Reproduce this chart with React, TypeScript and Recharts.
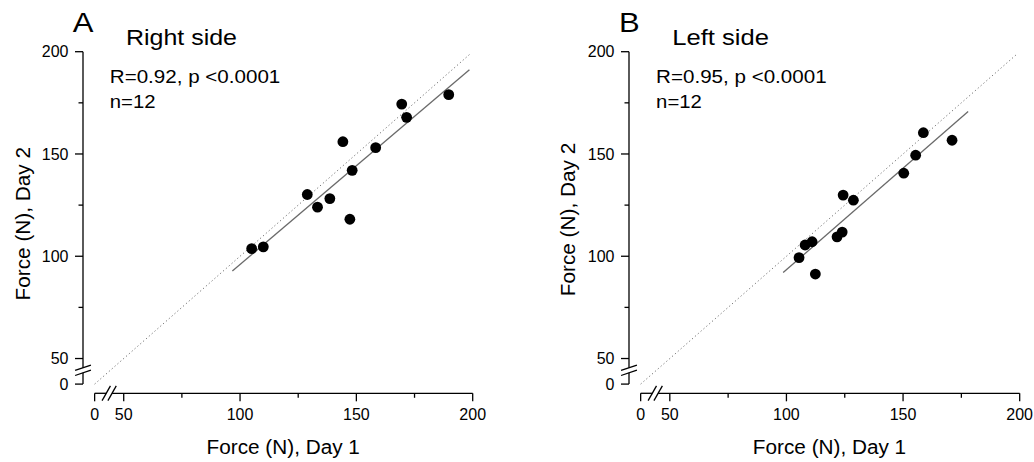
import React from 'react';
import { ScatterChart, Scatter, XAxis, YAxis, ReferenceLine } from 'recharts';

// ---- data ----
const rightDay1 = [105.0, 110.0, 128.9, 133.3, 138.6, 147.2, 144.2, 148.2, 158.3, 169.5, 171.6, 189.7];
const rightDay2 = [103.7, 104.6, 130.2, 124.0, 128.2, 118.1, 156.0, 142.0, 153.1, 174.4, 167.9, 179.0];
const leftDay1 = [105.4, 108.0, 111.0, 112.4, 121.7, 123.9, 124.3, 128.7, 150.3, 155.4, 158.7, 171.0];
const leftDay2 = [99.3, 105.5, 107.1, 91.3, 109.5, 111.8, 129.9, 127.4, 140.6, 149.4, 160.4, 156.7];

// regression line end points (Day 1, Day 2)
const rightFitX = [96.7, 198.6];
const rightFitY = [92.8, 191.2];
const leftFitX = [98.6, 177.9];
const leftFitY = [92.0, 170.8];

// identity line (from the broken-axis "0" to ~200)
const identityEnds = [37.5, 199];

// axis ticks: 37.5 is where the broken axis shows "0"
const tickValues = [37.5, 50, 75, 100, 125, 150, 175, 200];
const tickLabels = ['0', '50', '', '100', '', '150', '', '200'];

const xDomain = [32.5, 200];
const yDomain = [33, 200];
// axis break positions (where the two slashes cross each axis)
const xBreak = [42.5, 45.0];
const yBreak = [43.0, 45.5];

const FONT = '"Liberation Sans", Arial, Helvetica, sans-serif';
const AX = '#000';
const AXW = 1.3;

const YTick = (props: any) => {
  const { x, y, payload } = props;
  const i = tickValues.indexOf(payload.value);
  const label = i >= 0 ? tickLabels[i] : '';
  const len = label ? 8 : 4.5;
  return (
    <g>
      <line x1={x - len} x2={x} y1={y} y2={y} stroke={AX} strokeWidth={AXW} />
      {label ? (
        <text x={x - 14.5} y={y} dy={5.7} textAnchor="end" fontSize={16} fontFamily={FONT} fill="#000">
          {label}
        </text>
      ) : null}
    </g>
  );
};

const XTick = (props: any) => {
  const { x, y, payload } = props;
  const i = tickValues.indexOf(payload.value);
  const label = i >= 0 ? tickLabels[i] : '';
  const len = label ? 8 : 4.5;
  return (
    <g>
      <line x1={x} x2={x} y1={y} y2={y + len} stroke={AX} strokeWidth={AXW} />
      {label ? (
        <text x={x} y={y + 26.9} textAnchor="middle" fontSize={16} fontFamily={FONT} fill="#000">
          {label}
        </text>
      ) : null}
    </g>
  );
};

const Dot = (props: any) => {
  const { cx, cy } = props;
  if (cx == null || cy == null) return null;
  return <circle cx={cx} cy={cy} r={5.4} fill="#000" />;
};

type PanelProps = {
  left: number;
  width: number;
  marginRight: number;
  day1: number[];
  day2: number[];
  fitX: number[];
  fitY: number[];
};

const Panel = ({ left, width, marginRight, day1, day2, fitX, fitY }: PanelProps) => {
  const data = day1.map((x, i) => ({ x, y: day2[i] }));
  const xa = xDomain[0];
  const ya = yDomain[0];
  // slash half extents in data units
  const ySlashDx = 3.4;
  const ySlashDy = 1.3;
  const xSlashDx = 1.8;
  const xSlashDy = 3.6;
  return (
    <div style={{ position: 'absolute', left, top: 0, width, height: 462 }}>
      <ScatterChart width={width} height={462} margin={{ top: 51.7, right: marginRight, bottom: 38.7, left: 0 }}>
        <XAxis
          type="number"
          dataKey="x"
          domain={xDomain}
          ticks={tickValues}
          interval={0}
          height={30}
          tickSize={0}
          tickMargin={0}
          axisLine={false}
          tickLine={false}
          tick={(p: any) => <XTick {...p} />}
        />
        <YAxis
          type="number"
          dataKey="y"
          domain={yDomain}
          ticks={tickValues}
          interval={0}
          width={83}
          tickSize={0}
          tickMargin={0}
          axisLine={false}
          tickLine={false}
          tick={(p: any) => <YTick {...p} />}
        />
        {/* identity line */}
        <ReferenceLine
          segment={[{ x: identityEnds[0], y: identityEnds[0] }, { x: identityEnds[1], y: identityEnds[1] }]}
          stroke="#6e6e6e"
          strokeWidth={1}
          strokeDasharray="1.2 2.6"
          ifOverflow="visible"
        />
        {/* regression line */}
        <ReferenceLine
          segment={[{ x: fitX[0], y: fitY[0] }, { x: fitX[1], y: fitY[1] }]}
          stroke="#6a6a6a"
          strokeWidth={1.3}
          ifOverflow="visible"
        />
        {/* y axis line with break */}
        <ReferenceLine segment={[{ x: xa, y: 200 }, { x: xa, y: yBreak[1] }]} stroke={AX} strokeWidth={AXW} ifOverflow="visible" />
        <ReferenceLine segment={[{ x: xa, y: yBreak[0] }, { x: xa, y: tickValues[0] }]} stroke={AX} strokeWidth={AXW} ifOverflow="visible" />
        <ReferenceLine
          segment={[{ x: xa - ySlashDx, y: yBreak[1] - ySlashDy }, { x: xa + ySlashDx, y: yBreak[1] + ySlashDy }]}
          stroke={AX}
          strokeWidth={AXW}
          ifOverflow="visible"
        />
        <ReferenceLine
          segment={[{ x: xa - ySlashDx, y: yBreak[0] - ySlashDy }, { x: xa + ySlashDx, y: yBreak[0] + ySlashDy }]}
          stroke={AX}
          strokeWidth={AXW}
          ifOverflow="visible"
        />
        {/* x axis line with break */}
        <ReferenceLine segment={[{ x: tickValues[0], y: ya }, { x: xBreak[0], y: ya }]} stroke={AX} strokeWidth={AXW} ifOverflow="visible" />
        <ReferenceLine segment={[{ x: xBreak[1], y: ya }, { x: 200, y: ya }]} stroke={AX} strokeWidth={AXW} ifOverflow="visible" />
        <ReferenceLine
          segment={[{ x: xBreak[0] - xSlashDx, y: ya - xSlashDy }, { x: xBreak[0] + xSlashDx, y: ya + xSlashDy }]}
          stroke={AX}
          strokeWidth={AXW}
          ifOverflow="visible"
        />
        <ReferenceLine
          segment={[{ x: xBreak[1] - xSlashDx, y: ya - xSlashDy }, { x: xBreak[1] + xSlashDx, y: ya + xSlashDy }]}
          stroke={AX}
          strokeWidth={AXW}
          ifOverflow="visible"
        />
        <Scatter data={data} shape={(p: any) => <Dot {...p} />} isAnimationActive={false} />
      </ScatterChart>
    </div>
  );
};

const PanelText = ({ ox, letter, title, titleLen, stat, yLabelX, yLabelY }: any) => (
  <g fontFamily={FONT} fill="#000">
    <text x={ox + 72.7} y={32.3} fontSize={28} textLength={20.7} lengthAdjust="spacingAndGlyphs">
      {letter}
    </text>
    <text x={ox + 126} y={45} fontSize={22} textLength={titleLen} lengthAdjust="spacingAndGlyphs">
      {title}
    </text>
    <text x={ox + 109.8} y={83.3} fontSize={17.5} textLength={170.5} lengthAdjust="spacingAndGlyphs">
      {stat}
    </text>
    <text x={ox + 109.8} y={108.3} fontSize={17.5} textLength={45.7} lengthAdjust="spacingAndGlyphs">
      n=12
    </text>
    <text x={ox + 283.2} y={454} fontSize={19.5} textAnchor="middle" textLength={153.3} lengthAdjust="spacingAndGlyphs">
      Force (N), Day 1
    </text>
    <text
      x={yLabelX}
      y={yLabelY}
      fontSize={19.5}
      textAnchor="middle"
      textLength={153.5}
      lengthAdjust="spacingAndGlyphs"
      transform={`rotate(-90 ${yLabelX} ${yLabelY})`}
    >
      Force (N), Day 2
    </text>
  </g>
);

export default function App() {
  const bLeft = 546.3;
  return (
    <div
      style={{
        position: 'absolute',
        left: 0,
        top: 0,
        width: 1034,
        height: 462,
        overflow: 'hidden',
        background: '#fff',
        fontFamily: FONT,
      }}
    >
      <Panel left={0} width={517} marginRight={44.3} day1={rightDay1} day2={rightDay2} fitX={rightFitX} fitY={rightFitY} />
      <Panel left={bLeft} width={1034 - bLeft} marginRight={14} day1={leftDay1} day2={leftDay2} fitX={leftFitX} fitY={leftFitY} />
      <svg width={1034} height={462} style={{ position: 'absolute', left: 0, top: 0, pointerEvents: 'none' }}>
        <PanelText ox={0} letter="A" title="Right side" titleLen={111} stat="R=0.92, p <0.0001" yLabelX={30} yLabelY={223.7} />
        <PanelText ox={bLeft} letter="B" title="Left side" titleLen={96.7} stat="R=0.95, p <0.0001" yLabelX={575} yLabelY={219.5} />
      </svg>
    </div>
  );
}
